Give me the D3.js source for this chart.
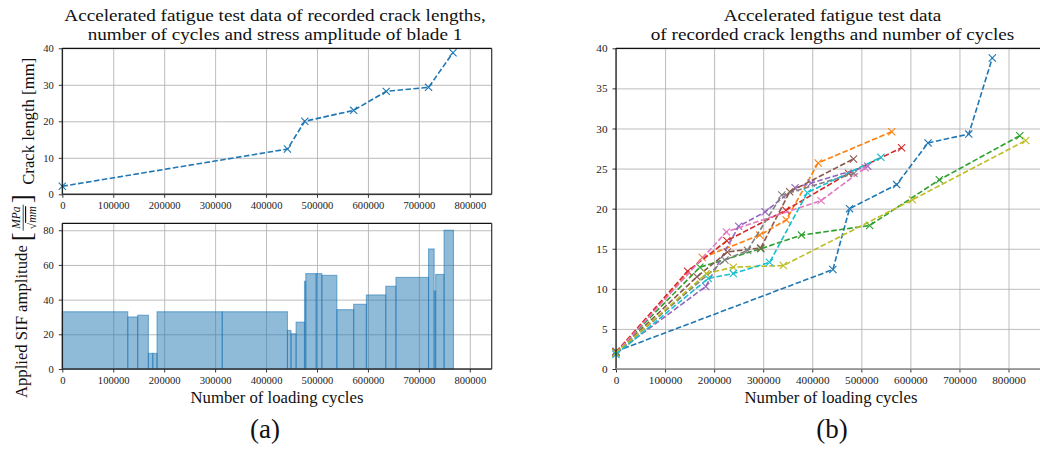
<!DOCTYPE html>
<html>
<head>
<meta charset="utf-8">
<script src="https://cdn.jsdelivr.net/npm/d3@7"></script>
<style>
  body { margin: 0; background: #fff; }
  svg { display: block; font-family: "Liberation Serif", "Times New Roman", serif; }
</style>
</head>
<body>
<svg id="chart" width="1040" height="450"></svg>
<script>
// ---------- blade 1: crack length vs. cycles ----------
const blade1Cycles = [0, 442000, 476000, 572000, 636000, 719000, 767000];
const blade1Crack  = [2.2, 12.4, 20.0, 23.0, 28.2, 29.3, 38.8];

// ---------- blade 1: applied SIF amplitude per loading block ----------
const blockEdges = [0, 128500, 148000, 169000, 177600, 186000, 314000, 442000, 449000,
                    459000, 475500, 478000, 498500, 509500, 539000, 572000, 597000,
                    635000, 655000, 719000, 730000, 733000, 749500, 768000];
const sifAmplitude = [33, 30, 31, 9, 9, 33, 33, 22.2, 20.3, 27, 50.6, 55, 55, 54,
                      34.2, 37.3, 42.7, 47.7, 52.8, 69.2, 45, 54.5, 80];

// ---------- all blades: crack length vs. cycles ----------
const cyclesBlade1  = [0, 442000, 476000, 572000, 636000, 719000, 767000];
const crackBlade1   = [2.2, 12.4, 20.0, 23.0, 28.2, 29.3, 38.8];
const cyclesBlade2  = [0, 176000, 293000, 347000, 412000, 562000];
const crackBlade2   = [2.1, 13.9, 16.7, 18.6, 25.7, 29.6];
const cyclesBlade3  = [0, 171000, 295000, 378000, 517000, 659000, 823000];
const crackBlade3   = [2.1, 12.7, 15.0, 16.7, 17.9, 23.6, 29.1];
const cyclesBlade4  = [0, 146000, 226000, 346000, 474000, 582000];
const crackBlade4   = [2.1, 12.2, 16.0, 19.8, 24.4, 27.6];
const cyclesBlade5  = [0, 183000, 250000, 304000, 365000, 398000, 513000];
const crackBlade5   = [2.0, 10.3, 17.8, 19.6, 22.6, 23.2, 25.3];
const cyclesBlade6  = [0, 165000, 227000, 295000, 354000, 484000];
const crackBlade6   = [2.0, 11.5, 14.6, 15.1, 22.1, 26.2];
const cyclesBlade7  = [0, 225000, 418000, 508000];
const crackBlade7   = [2.0, 17.1, 21.0, 25.1];
const cyclesBlade8  = [0, 222000, 268000, 338000, 485000];
const crackBlade8   = [2.0, 13.6, 14.8, 21.7, 24.4];
const cyclesBlade9  = [0, 184000, 239000, 341000, 604000, 835000];
const crackBlade9   = [2.0, 11.9, 12.7, 12.9, 21.1, 28.5];
const cyclesBlade10 = [0, 188000, 239000, 313000, 390000, 540000];
const crackBlade10  = [1.8, 11.3, 11.9, 13.3, 22.0, 26.4];

const bladeCycles = [cyclesBlade1, cyclesBlade2, cyclesBlade3, cyclesBlade4, cyclesBlade5,
                     cyclesBlade6, cyclesBlade7, cyclesBlade8, cyclesBlade9, cyclesBlade10];
const bladeCrack  = [crackBlade1, crackBlade2, crackBlade3, crackBlade4, crackBlade5,
                     crackBlade6, crackBlade7, crackBlade8, crackBlade9, crackBlade10];
const bladeColors = ["#1f77b4", "#ff7f0e", "#2ca02c", "#d62728", "#9467bd",
                     "#8c564b", "#e377c2", "#7f7f7f", "#bcbd22", "#17becf"];

// ---------- ticks ----------
const cycleTicks  = [0, 100000, 200000, 300000, 400000, 500000, 600000, 700000, 800000];
const crackTicksA = [0, 10, 20, 30, 40];
const sifTicks    = [0, 20, 40, 60, 80];
const crackTicksB = [0, 5, 10, 15, 20, 25, 30, 35, 40];

const SERIF = '"Liberation Serif", "Times New Roman", serif';
const svg = d3.select("#chart");
const LABEL_FONT = 16.7;
const TITLE_FONT = 17.6;
const GRID = "#b4b4b4";

// scales
const xA   = d3.scaleLinear().domain([0, 843000]).range([62.3, 491.7]);
const yTop = d3.scaleLinear().domain([0, 40]).range([194.3, 48.3]);
const ySif = d3.scaleLinear().domain([0, 84]).range([369, 223.3]);
const xB   = d3.scaleLinear().domain([0, 877000]).range([616, 1046.3]);
const yB   = d3.scaleLinear().domain([0, 40]).range([369, 48.3]);

// grid layer drawn with axes using full-length ticks
function drawGrid(x, y, xt, yt) {
  const [x0, x1] = x.range(), [y0, y1] = y.range();
  const g = svg.append("g");
  g.append("g").attr("transform", `translate(0,${y0})`)
    .call(d3.axisBottom(x).tickValues(xt).tickSize(-(y0 - y1)).tickFormat(""))
    .call(a => a.select(".domain").remove())
    .selectAll("line").attr("stroke", GRID).attr("stroke-width", 0.9);
  g.append("g").attr("transform", `translate(${x0},0)`)
    .call(d3.axisLeft(y).tickValues(yt).tickSize(-(x1 - x0)).tickFormat(""))
    .call(a => a.select(".domain").remove())
    .selectAll("line").attr("stroke", GRID).attr("stroke-width", 0.9);
}

// ticks, tick labels and frame
function drawAxes(x, y, xt, yt, bottomColor, tickFont) {
  const [x0, x1] = x.range(), [y0, y1] = y.range();
  const g = svg.append("g");
  const ax = g.append("g").attr("transform", `translate(0,${y0})`)
    .call(d3.axisBottom(x).tickValues(xt).tickSize(3.5).tickPadding(4).tickFormat(d3.format("d")));
  const ay = g.append("g").attr("transform", `translate(${x0},0)`)
    .call(d3.axisLeft(y).tickValues(yt).tickSize(3.5).tickPadding(5).tickFormat(d3.format("d")));
  [ax, ay].forEach(a => {
    a.attr("font-family", SERIF);
    a.select(".domain").remove();
    a.selectAll("line").attr("stroke", "#222").attr("stroke-width", 0.9);
    a.selectAll("text").attr("font-size", tickFont).attr("fill", "#222");
  });
  // frame
  g.append("line").attr("x1", x0).attr("x2", x1).attr("y1", y1).attr("y2", y1)
    .attr("stroke", "#111").attr("stroke-width", 1.2);
  g.append("line").attr("x1", x0).attr("x2", x0).attr("y1", y0).attr("y2", y1)
    .attr("stroke", "#111").attr("stroke-width", 1.2);
  g.append("line").attr("x1", x1).attr("x2", x1).attr("y1", y0).attr("y2", y1)
    .attr("stroke", "#333").attr("stroke-width", 1.2);
  g.append("line").attr("x1", x0).attr("x2", x1).attr("y1", y0).attr("y2", y0)
    .attr("stroke", bottomColor).attr("stroke-width", 1.6);
}

// dashed series with x markers
function drawSeries(x, y, cycles, crack, color) {
  const pts = cycles.map((c, i) => [c, crack[i]]);
  const line = d3.line().x(d => x(d[0])).y(d => y(d[1]));
  svg.append("path").datum(pts).attr("d", line)
    .attr("fill", "none").attr("stroke", color).attr("stroke-width", 1.6)
    .attr("stroke-dasharray", "5.6,2.4");
  const r = 3.6;
  svg.append("g").selectAll("path").data(pts).join("path")
    .attr("d", d => {
      const px = x(d[0]), py = y(d[1]);
      return `M${px - r},${py - r}L${px + r},${py + r}M${px - r},${py + r}L${px + r},${py - r}`;
    })
    .attr("stroke", color).attr("stroke-width", 1.1).attr("fill", "none");
}

// ---------- panel (a), top: crack length ----------
drawGrid(xA, yTop, cycleTicks, crackTicksA);
drawSeries(xA, yTop, blade1Cycles, blade1Crack, bladeColors[0]);
drawAxes(xA, yTop, cycleTicks, crackTicksA, "#333", 10.6);

// ---------- panel (a), bottom: SIF amplitude blocks ----------
drawGrid(xA, ySif, cycleTicks, sifTicks);
const blocks = sifAmplitude.map((v, i) => ({ start: blockEdges[i], end: blockEdges[i + 1], value: v }));
svg.append("g").selectAll("rect").data(blocks).join("rect")
  .attr("x", d => xA(d.start))
  .attr("width", d => xA(d.end) - xA(d.start))
  .attr("y", d => ySif(d.value))
  .attr("height", d => ySif(0) - ySif(d.value))
  .attr("fill", "#1f77b4").attr("fill-opacity", 0.5)
  .attr("stroke", "#1f77b4").attr("stroke-opacity", 0.55).attr("stroke-width", 1.1);
drawAxes(xA, ySif, cycleTicks, sifTicks, "#333", 10.6);

// ---------- panel (b): all blades ----------
drawGrid(xB, yB, cycleTicks, crackTicksB);
bladeCycles.forEach((c, i) => drawSeries(xB, yB, c, bladeCrack[i], bladeColors[i]));
drawAxes(xB, yB, cycleTicks, crackTicksB, "#888", 11.2);

// ---------- titles and labels ----------
function centeredText(x, y, size, str) {
  svg.append("text").attr("x", x).attr("y", y).attr("text-anchor", "middle")
    .attr("font-family", SERIF).attr("font-size", size).attr("fill", "#111").text(str);
}
// two-line panel titles, slightly widened glyphs
function panelTitle(x, lines) {
  const g = svg.append("g").attr("transform", `translate(${x},0) scale(1.09,1)`);
  lines.forEach((s, i) => g.append("text").attr("x", 0).attr("y", 20.6 + i * 19.8)
    .attr("text-anchor", "middle").attr("font-family", SERIF)
    .attr("font-size", TITLE_FONT).attr("fill", "#111").text(s));
}
panelTitle(275, ["Accelerated fatigue test data of recorded crack lengths,",
                 "number of cycles and stress amplitude of blade 1"]);
panelTitle(832.5, ["Accelerated fatigue test data",
                   "of recorded crack lengths and number of cycles"]);

centeredText(277, 402.5, LABEL_FONT, "Number of loading cycles");
centeredText(831, 402.5, LABEL_FONT, "Number of loading cycles");
centeredText(265, 438, 27, "(a)");
centeredText(832, 438, 27, "(b)");

svg.append("text")
  .attr("transform", `translate(33.5,${(yTop.range()[0] + yTop.range()[1]) / 2}) rotate(-90)`)
  .attr("text-anchor", "middle").attr("font-family", SERIF)
  .attr("font-size", LABEL_FONT).attr("fill", "#111")
  .text("Crack length [mm]");

// y label with the MPa/√mm fraction
(function sifLabel() {
  const cy = (ySif.range()[0] + ySif.range()[1]) / 2;
  const outer = svg.append("g").attr("transform", `translate(27,${cy}) rotate(-90)`)
    .attr("font-family", SERIF).attr("fill", "#111");
  const g = outer.append("g");
  let pos = 0;
  const main = g.append("text").attr("x", 0).attr("y", 0)
    .attr("font-size", LABEL_FONT).text("Applied SIF amplitude");
  pos = main.node().getComputedTextLength() + 4;
  const lb = g.append("text").attr("x", pos).attr("y", 3.5)
    .attr("font-size", 27).text("[");
  pos += lb.node().getComputedTextLength() + 1.5;
  const fracSize = 11.5;
  const num = g.append("text").attr("y", -7).attr("font-size", fracSize)
    .attr("font-style", "italic").text("MPa");
  const den = g.append("text").attr("y", 9).attr("font-size", fracSize);
  den.append("tspan").text("\u221A");
  den.append("tspan").attr("font-style", "italic").attr("text-decoration", "overline").text("mm");
  const wNum = num.node().getComputedTextLength();
  const wDen = den.node().getComputedTextLength();
  const wBar = Math.max(wNum, wDen) + 3;
  num.attr("x", pos + (wBar - wNum) / 2);
  den.attr("x", pos + (wBar - wDen) / 2);
  g.append("line").attr("x1", pos).attr("x2", pos + wBar).attr("y1", -3.8).attr("y2", -3.8)
    .attr("stroke", "#111").attr("stroke-width", 0.8);
  pos += wBar + 1.5;
  const rb = g.append("text").attr("x", pos).attr("y", 3.5)
    .attr("font-size", 27).text("]");
  pos += rb.node().getComputedTextLength();
  g.attr("transform", `translate(${-pos / 2},0)`);
})();
</script>
</body>
</html>
